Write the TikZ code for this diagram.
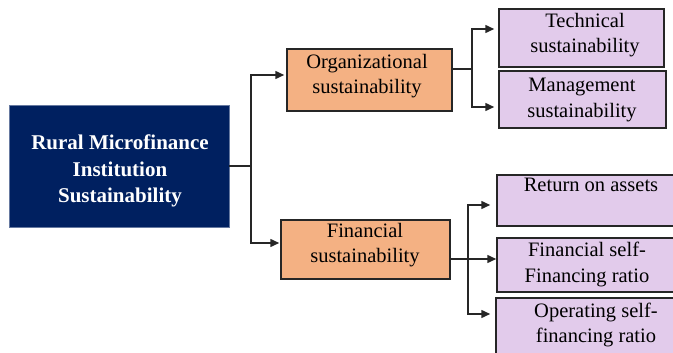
\documentclass[tikz,border=0pt]{standalone}
\usepackage{fontspec}
\setmainfont{LiberationSerif}[Extension=.ttf, UprightFont=*-Regular, BoldFont=*-Bold, ItalicFont=*-Italic, BoldItalicFont=*-BoldItalic]
\usetikzlibrary{arrows.meta}
\definecolor{navy}{HTML}{002060}
\definecolor{orangebox}{HTML}{F4B183}
\definecolor{lilac}{HTML}{E2CBEB}
\definecolor{edge}{HTML}{262626}
\tikzset{
  box/.style={draw=edge, line width=1.5pt, inner sep=0pt, rectangle},
  mainbox/.style={box, draw=navy!60!white, line width=0.8pt, fill=navy},
  orgbox/.style={box, fill=orangebox},
  leafbox/.style={box, fill=lilac},
  txt/.style={inner sep=0pt, align=center, font=\rmfamily\fontsize{20.5}{25.5}\selectfont, text=black},
  maintxt/.style={inner sep=0pt, align=center, font=\rmfamily\fontsize{21}{26.5}\selectfont\bfseries, text=white},
  ln/.style={line width=1.5pt, draw=edge},
  arr/.style={ln, -{Triangle[length=9pt,width=8pt]}},
}
\begin{document}
\begin{tikzpicture}[x=1pt,y=-1pt]
\useasboundingbox (0,0) rectangle (673,353);
\clip (0,0) rectangle (673,353);
% boxes
\node[mainbox, minimum width=220pt, minimum height=122pt] (main) at (119,166) {};
\node[maintxt] (maint) at (120,171) {Rural Microfinance\\Institution\\Sustainability};
\node[orgbox, minimum width=165pt, minimum height=62pt] (org) at (369.5,80) {};
\node[txt] (orgt) at (367,76) {Organizational\\sustainability};
\node[orgbox, minimum width=169pt, minimum height=59pt] (fin) at (365.5,249.5) {};
\node[txt] (fint) at (365,245) {Financial\\sustainability};
\node[leafbox, minimum width=165pt, minimum height=58pt] (tech) at (581.5,38) {};
\node[txt] (techt) at (585,35) {Technical\\sustainability};
\node[leafbox, minimum width=167pt, minimum height=57pt] (mgmt) at (582.5,99.5) {};
\node[txt] (mgmtt) at (582,100) {Management\\sustainability};
\node[leafbox, minimum width=181pt, minimum height=51pt] (ret) at (587.5,200.5) {};
\node[txt, anchor=north] (rett) at (591,178) {Return on assets};
\node[leafbox, minimum width=181pt, minimum height=54pt] (fself) at (587.5,265) {};
\node[txt] (fselft) at (587,264.5) {Financial self-\\Financing ratio};
\node[leafbox, minimum width=182pt, minimum height=64pt] (oper) at (587,330) {};
\node[txt] (opert) at (596,325) {Operating self-\\financing ratio};
% trunk
\coordinate (tm) at (251,166);
\coordinate (ta) at (251,75);
\coordinate (tb) at (251,243);
\draw[ln] (main.east) -- (tm);
\draw[arr, shorten >=2pt] (tm) -- (ta) -- (org.west |- ta);
\draw[arr, shorten >=1pt] (tm) -- (tb) -- (fin.west |- tb);
% organizational branch
\coordinate (om) at (472,69);
\coordinate (oa) at (472,29);
\coordinate (ob) at (472,107);
\draw[ln] (org.east |- om) -- (om);
\draw[arr, shorten >=4pt] (om) -- (oa) -- (tech.west |- oa);
\draw[arr, shorten >=4pt] (om) -- (ob) -- (mgmt.west |- ob);
% financial branch
\coordinate (fm) at (468,259);
\coordinate (fa) at (468,205);
\coordinate (fb) at (468,314);
\draw[arr] (fin.east |- fm) -- (fself.west |- fm);
\draw[arr, shorten >=6pt] (fm) -- (fa) -- (ret.west |- fa);
\draw[arr, shorten >=5pt] (fm) -- (fb) -- (oper.west |- fb);
\end{tikzpicture}
\end{document}
